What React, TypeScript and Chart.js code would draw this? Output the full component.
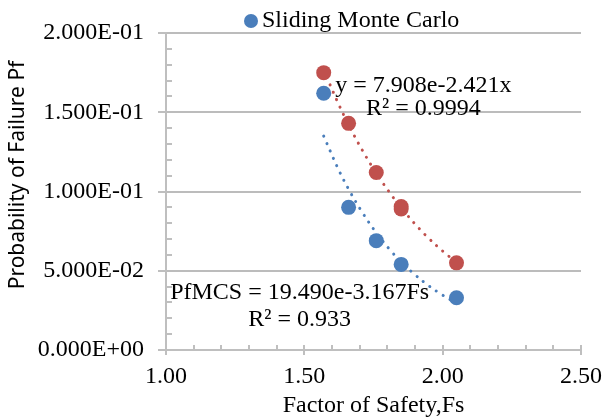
import React, { useEffect, useRef } from "react";
import { Chart, registerables } from "chart.js";
Chart.register(...registerables);

// Sliding Monte Carlo (blue) points
const fsMCS = [1.57, 1.66, 1.76, 1.85, 2.05];
const pfMCS = [0.162, 0.09, 0.069, 0.054, 0.033];
// Second series (red) points
const fsFit = [1.57, 1.66, 1.76, 1.85, 1.85, 2.05];
const pfFit = [0.175, 0.143, 0.112, 0.0905, 0.089, 0.055];
// Trendline samples
const trendFs = [1.57, 1.62, 1.66, 1.71, 1.76, 1.81, 1.85, 1.9, 1.95, 2.0, 2.05];
const trendMCS = [0.135, 0.1152, 0.1015, 0.0867, 0.074, 0.0631, 0.0556, 0.0475, 0.0405, 0.0346, 0.0295];
const trendFit = [0.1767, 0.1566, 0.1421, 0.1259, 0.1116, 0.0989, 0.0898, 0.0795, 0.0704, 0.0624, 0.0553];

const legendLabel = "Sliding Monte Carlo";
const xTitle = "Factor of Safety,Fs";
const yTitle = "Probability of Failure Pf";
const fitLabelLines = ["y = 7.908e-2.421x", "R\u00B2 = 0.9994"];
const mcsLabelLines = ["PfMCS = 19.490e-3.167Fs", "R\u00B2 = 0.933"];

const BLUE = "#4a7ebb";
const RED = "#c0504d";
const AXIS = "#bfbfbf";
const GRID = "#bcbcbc";
const SERIF = "'Liberation Serif', 'Times New Roman', serif";

const fmtExp = (v: number) => {
  const [m, e] = v.toExponential(3).split("e");
  const sign = e.startsWith("-") ? "-" : "+";
  const digits = e.replace(/^[+-]/, "").padStart(2, "0");
  return `${m}E${sign}${digits}`;
};

const decor = {
  id: "decor",
  beforeDatasetsDraw(chart: any) {
    const { ctx, chartArea: a, scales } = chart;
    const x = scales.x;
    const y = scales.y;
    ctx.save();
    ctx.setLineDash([]);
    ctx.lineWidth = 2;
    ctx.strokeStyle = GRID;
    ctx.beginPath();
    for (const t of y.ticks) {
      if (t.value === 0) continue;
      const py = Math.round(y.getPixelForValue(t.value));
      ctx.moveTo(a.left, py);
      ctx.lineTo(a.right, py);
    }
    ctx.stroke();
    ctx.strokeStyle = AXIS;
    ctx.beginPath();
    for (let i = 1; i < 20; i++) {
      if (i % 5 === 0) continue;
      const py = Math.round(y.getPixelForValue(i / 100));
      ctx.moveTo(a.left, py);
      ctx.lineTo(a.left + 6, py);
    }
    for (let i = 0; i <= 15; i++) {
      const px = Math.round(x.getPixelForValue(1 + i / 10));
      ctx.moveTo(px, a.bottom);
      ctx.lineTo(px, a.bottom - 5);
    }
    ctx.moveTo(a.left, a.top);
    ctx.lineTo(a.left, a.bottom);
    ctx.lineTo(a.right, a.bottom);
    ctx.stroke();
    ctx.restore();
  },
  afterDraw(chart: any) {
    const { ctx, scales } = chart;
    const x = scales.x;
    const y = scales.y;
    ctx.save();
    ctx.fillStyle = BLUE;
    ctx.beginPath();
    ctx.arc(251, 21, 7, 0, Math.PI * 2);
    ctx.fill();
    ctx.fillStyle = "#000";
    ctx.font = `24px ${SERIF}`;
    ctx.textAlign = "left";
    ctx.textBaseline = "alphabetic";
    ctx.fillText(legendLabel, 262, 27);
    ctx.textAlign = "center";
    const fx = x.getPixelForValue(1.93);
    ctx.fillText(fitLabelLines[0], fx, y.getPixelForValue(0.1628));
    ctx.fillText(fitLabelLines[1], fx, y.getPixelForValue(0.1483));
    const mx = x.getPixelForValue(1.483);
    ctx.fillText(mcsLabelLines[0], mx, y.getPixelForValue(0.0322));
    ctx.fillText(mcsLabelLines[1], mx, y.getPixelForValue(0.0151));
    ctx.translate(18, 175);
    ctx.rotate(-Math.PI / 2);
    ctx.font = "21px 'Noto Sans', sans-serif";
    ctx.textBaseline = "middle";
    ctx.fillText(yTitle, 0, 0);
    ctx.restore();
  },
};

export default function App() {
  const ref = useRef<HTMLCanvasElement>(null);
  useEffect(() => {
    document.body.style.margin = "0";
    const toPts = (xs: number[], ys: number[]) => xs.map((v, i) => ({ x: v, y: ys[i] }));
    const chart = new Chart(ref.current as HTMLCanvasElement, {
      type: "scatter",
      data: {
        datasets: [
          { label: "fit", data: toPts(fsFit, pfFit), backgroundColor: RED, borderColor: RED, pointRadius: 7.5, borderWidth: 0, order: 0 },
          { label: legendLabel, data: toPts(fsMCS, pfMCS), backgroundColor: BLUE, borderColor: BLUE, pointRadius: 7.5, borderWidth: 0, order: 0 },
          { label: "trendFit", data: toPts(trendFs, trendFit), showLine: true, borderColor: RED, borderWidth: 3, borderDash: [0.1, 8], borderCapStyle: "round", pointRadius: 0, tension: 0.4, order: 1 } as any,
          { label: "trendMCS", data: toPts(trendFs, trendMCS), showLine: true, borderColor: BLUE, borderWidth: 3, borderDash: [0.1, 8], borderCapStyle: "round", pointRadius: 0, tension: 0.4, order: 1 } as any,
        ],
      },
      options: {
        responsive: false,
        animation: false,
        events: [],
        layout: { padding: { left: 0, right: 24, top: 33, bottom: 0 } },
        plugins: { legend: { display: false }, tooltip: { enabled: false } },
        scales: {
          x: {
            type: "linear", min: 1, max: 2.5,
            ticks: { stepSize: 0.5, color: "#000", font: { family: SERIF, size: 24 }, padding: 7, maxRotation: 0, callback: (v: any) => Number(v).toFixed(2) },
            grid: { display: true, drawOnChartArea: false, color: AXIS, lineWidth: 2, tickLength: 5 },
            border: { display: true, color: AXIS, width: 2 },
            title: { display: true, text: xTitle, color: "#000", font: { family: SERIF, size: 24 }, padding: { top: 0, bottom: 0 } },
            afterFit: (s: any) => { s.height = 70; s.paddingLeft = 0; s.paddingRight = 0; },
          },
          y: {
            type: "linear", min: 0, max: 0.2,
            ticks: { stepSize: 0.05, color: "#000", font: { family: SERIF, size: 24 }, padding: 14, callback: (v: any) => fmtExp(Number(v)) },
            grid: { display: true, drawOnChartArea: true, color: GRID, lineWidth: 2, tickLength: 8, tickColor: AXIS },
            border: { display: true, color: AXIS, width: 2, z: 1 },
            afterFit: (s: any) => { s.width = 166; s.paddingTop = 0; s.paddingBottom = 0; },
          },
        },
      },
      plugins: [decor],
    });
    return () => chart.destroy();
  }, []);
  return (
    <div style={{ width: 605, height: 420 }}>
      <canvas ref={ref} width={605} height={420} style={{ display: "block" }} />
    </div>
  );
}
